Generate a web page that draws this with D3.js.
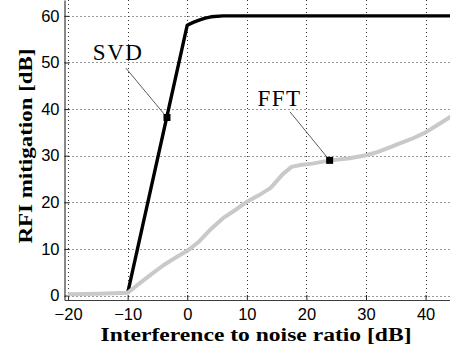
<!DOCTYPE html>
<html>
<head>
<meta charset="utf-8">
<script src="https://cdn.jsdelivr.net/npm/d3@7/dist/d3.min.js"></script>
<style>
  html, body { margin: 0; padding: 0; background: #fff; }
  svg { display: block; }
</style>
</head>
<body>
<div id="chart"></div>
<script>
// data
var xTicks = [-20, -10, 0, 10, 20, 30, 40];
var yTicks = [0, 10, 20, 30, 40, 50, 60];

var svdX = [-10, 0, 1, 2, 3, 4, 6, 45];
var svdY = [0.5, 58, 58.6, 59.1, 59.5, 59.8, 60, 60];

var fftX = [-20, -15, -10, -8, -6, -4, -2, 0, 2, 4, 6, 8, 10, 12, 14, 16, 17.5, 19, 21, 24, 27, 30, 32, 34, 36, 38, 40, 42, 45];
var fftY = [0.3, 0.4, 0.6, 2.6, 4.6, 6.5, 8.1, 9.6, 11.6, 14.3, 16.6, 18.3, 20.1, 21.5, 23.1, 26, 27.6, 28, 28.3, 29, 29.4, 30.1, 30.8, 31.8, 32.8, 33.8, 35, 36.6, 39];

var labels = [
    { text: "SVD", x: -3.4, y: 38.2, tx: -11.6, ty: 50.5, lx: -10.3, ly: 48.8 },
    { text: "FFT", x: 23.9, y: 29.0, tx: 15.5, ty: 40.6, lx: 17.25, ly: 39.4 }
];

var xLabel = "Interference to noise ratio [dB]";
var yLabel = "RFI mitigation [dB]";

var width = 450, height = 352;
var area = { left: 64.5, right: 450, top: 0, bottom: 300 };

var svg = d3.select("#chart").append("svg")
    .attr("width", width)
    .attr("height", height);

// scales
var xScale = d3.scaleLinear().domain([-20.6, 44.1]).range([area.left, area.right]);
var yScale = d3.scaleLinear().domain([-0.95, 63.4]).range([area.bottom, area.top]);

svg.append("clipPath").attr("id", "clip")
    .append("rect")
    .attr("x", area.left)
    .attr("y", area.top)
    .attr("width", area.right - area.left)
    .attr("height", area.bottom - area.top);

// grid
var grid = svg.append("g").attr("class", "grid");
grid.selectAll(".gx").data(xTicks).enter().append("line")
    .attr("x1", d => Math.round(xScale(d)) + 0.5)
    .attr("x2", d => Math.round(xScale(d)) + 0.5)
    .attr("y1", area.top)
    .attr("y2", area.bottom)
    .attr("stroke", "#333")
    .attr("stroke-width", 1)
    .attr("stroke-dasharray", "1,3");
grid.selectAll(".gy").data(yTicks).enter().append("line")
    .attr("y1", d => Math.round(yScale(d)) + 0.5)
    .attr("y2", d => Math.round(yScale(d)) + 0.5)
    .attr("x1", area.left)
    .attr("x2", area.right)
    .attr("stroke", "#333")
    .attr("stroke-width", 1)
    .attr("stroke-dasharray", "1,3");

// axes (ticks inside, labels outside)
var xAxis = svg.append("g")
    .attr("transform", "translate(0," + area.bottom + ")")
    .call(d3.axisBottom(xScale).tickValues(xTicks).tickSize(-5).tickPadding(8).tickSizeOuter(0));
var yAxis = svg.append("g")
    .attr("transform", "translate(" + area.left + ",0)")
    .call(d3.axisLeft(yScale).tickValues(yTicks).tickSize(-5).tickPadding(5).tickSizeOuter(0));

[xAxis, yAxis].forEach(function(ax) {
    ax.select(".domain").attr("stroke", "#3a3a3a").attr("stroke-width", 1.2);
    ax.selectAll(".tick line").attr("stroke", "#222");
    ax.selectAll(".tick text")
        .attr("fill", "#000")
        .style("font-family", "'Liberation Sans', Arial, sans-serif")
        .style("font-size", "16.5px");
});

// lines
var lineGen = d3.line().x(d => xScale(d[0])).y(d => yScale(d[1]));
var plot = svg.append("g").attr("clip-path", "url(#clip)");

plot.append("path")
    .datum(svdX.map((x, i) => [x, svdY[i]]))
    .attr("d", lineGen)
    .attr("fill", "none")
    .attr("stroke", "#000")
    .attr("stroke-width", 3.4)
    .attr("stroke-linejoin", "round");

plot.append("path")
    .datum(fftX.map((x, i) => [x, fftY[i]]))
    .attr("d", lineGen)
    .attr("fill", "none")
    .attr("stroke", "#c9c9c9")
    .attr("stroke-width", 4)
    .attr("stroke-linejoin", "round");

// annotations
labels.forEach(function(l) {
    svg.append("line")
        .attr("x1", xScale(l.lx))
        .attr("y1", yScale(l.ly))
        .attr("x2", xScale(l.x))
        .attr("y2", yScale(l.y))
        .attr("stroke", "#333")
        .attr("stroke-width", 0.8);
    svg.append("rect")
        .attr("x", xScale(l.x) - 3.5)
        .attr("y", yScale(l.y) - 3.5)
        .attr("width", 7)
        .attr("height", 7)
        .attr("fill", "#000");
    svg.append("text")
        .attr("x", xScale(l.tx))
        .attr("y", yScale(l.ty))
        .attr("text-anchor", "middle")
        .style("font-family", "'Liberation Serif', 'Times New Roman', serif")
        .style("font-size", "23px")
        .style("letter-spacing", "1.5px")
        .text(l.text);
});

// axis titles
svg.append("text")
    .attr("x", 256)
    .attr("y", 341)
    .attr("text-anchor", "middle")
    .attr("textLength", 311)
    .attr("lengthAdjust", "spacingAndGlyphs")
    .style("font-family", "'Liberation Serif', 'Times New Roman', serif")
    .style("font-weight", "bold")
    .style("font-size", "18.5px")
    .text(xLabel);

svg.append("text")
    .attr("transform", "translate(32,146) rotate(-90)")
    .attr("text-anchor", "middle")
    .attr("textLength", 195)
    .attr("lengthAdjust", "spacingAndGlyphs")
    .style("font-family", "'Liberation Serif', 'Times New Roman', serif")
    .style("font-weight", "bold")
    .style("font-size", "18.5px")
    .text(yLabel);
</script>
</body>
</html>
